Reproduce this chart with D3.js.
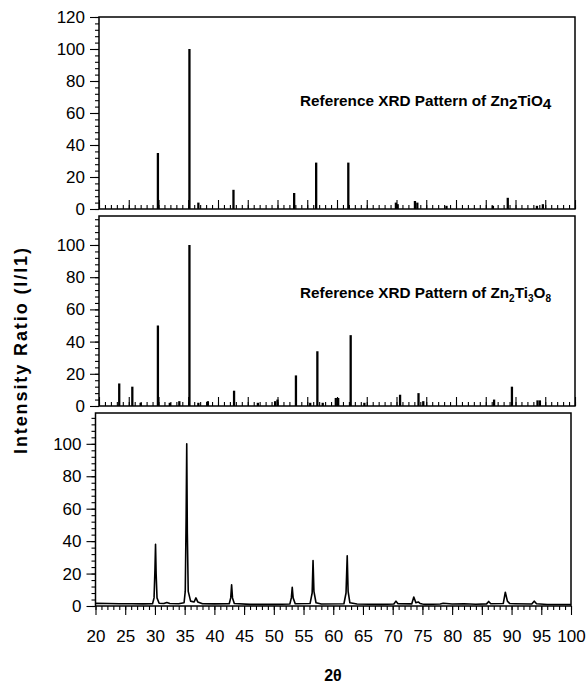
<!DOCTYPE html>
<html>
<head>
<meta charset="utf-8">
<script src="https://cdn.jsdelivr.net/npm/d3@7"></script>
<style>
    body { margin: 0; background: #fff; }
    text { font-family: "Liberation Sans", Arial, sans-serif; fill: #000; }
</style>
</head>
<body>
<svg id="chart" width="588" height="684" viewBox="0 0 588 684"></svg>
<script>
// Reference stick pattern, Zn2TiO4 (2theta, I/I1)
const tioPos = [29.9, 35.2, 36.7, 42.6, 52.8, 56.5, 61.9, 69.9, 70.2, 73.1, 73.5, 78.4, 86.2, 88.7, 93.6, 94.6];
const tioInt = [35, 100, 4, 12, 10, 29, 29, 4, 3, 5, 4, 2, 2, 7, 2, 3];

// Reference stick pattern, Zn2Ti3O8
const ti3Pos = [23.4, 25.6, 27.0, 29.9, 31.9, 33.5, 35.2, 36.7, 38.3, 42.7, 46.7, 49.6, 50.0, 53.1, 55.5, 56.7, 57.6, 59.8, 60.2, 62.3, 64.6, 70.6, 73.7, 74.5, 86.4, 89.4, 93.7, 94.1];
const ti3Int = [14, 12, 2, 50, 2, 3, 100, 2, 3, 9.5, 2, 3, 4, 19, 2, 34, 2, 5, 5, 44, 2, 7, 8, 3, 4, 12, 3.5, 3.5];

// Measured pattern (2theta, intensity)
const measTheta = [20, 22, 24, 26, 28, 29.6, 29.85, 30.0, 30.1, 30.2, 30.35, 30.7, 31.5, 32, 32.5, 34, 34.9, 35.1, 35.25, 35.35, 35.45, 35.6, 36, 36.6, 36.9, 37.2, 38, 40, 42.5, 42.75, 42.9, 43.05, 43.35, 46, 50, 52.7, 52.95, 53.1, 53.25, 53.6, 56.1, 56.45, 56.6, 56.75, 57.1, 58, 61.8, 62.15, 62.35, 62.5, 62.8, 64, 68, 70.2, 70.55, 70.9, 73.2, 73.55, 73.9, 74.3, 74.6, 75.0, 75.5, 78, 78.5, 80, 82, 84, 85.8, 86.15, 86.5, 88.6, 88.95, 89.3, 89.7, 90.5, 93.4, 93.8, 94.2, 96, 100];
const measInt   = [1.6, 1.5, 1.4, 1.4, 1.3, 1.4, 5, 22, 38, 20, 5, 1.7, 1.5, 2.2, 1.5, 1.4, 2, 9, 55, 100, 45, 9, 3, 2.5, 5, 2.5, 1.4, 1.3, 1.4, 5, 13, 5, 1.5, 1.0, 1.0, 1.2, 5, 11.5, 5, 1.4, 1.5, 8, 28, 9, 2, 1.2, 1.4, 8, 31, 9, 2, 1.2, 1.0, 1.2, 3, 1.4, 1.3, 5.5, 2, 2.5, 1.6, 1.2, 1.0, 1.2, 1.7, 1.2, 1.4, 1.1, 1.3, 2.8, 1.4, 1.5, 8.5, 3, 1.5, 1.4, 1.2, 3, 1.4, 0.9, 0.9];

// Tick labels
const xTickLabels = [20, 25, 30, 35, 40, 45, 50, 55, 60, 65, 70, 75, 80, 85, 90, 95, 100];
const yTicksTop = [0, 20, 40, 60, 80, 100, 120];
const yTicksLower = [0, 20, 40, 60, 80, 100];

const svg = d3.select("#chart");

const panels = [
    { x0: 99, x1: 575, top: 17, bottom: 209, yMax: 120, ticks: yTicksTop, sticks: [tioPos, tioInt] },
    { x0: 99, x1: 575, top: 216, bottom: 406, yMax: 118, ticks: yTicksLower, sticks: [ti3Pos, ti3Int] },
    { x0: 95.5, x1: 571, top: 413, bottom: 606, yMax: 119, ticks: yTicksLower, sticks: null }
];

panels.forEach((p, i) => {
    const x = d3.scaleLinear().domain([20, 100]).range([p.x0, p.x1]);
    const y = d3.scaleLinear().domain([0, p.yMax]).range([p.bottom, p.top]);
    const g = svg.append("g");
    const isLast = i === panels.length - 1;

    // minor y ticks
    g.append("g")
        .attr("transform", `translate(${p.x0},0)`)
        .call(d3.axisLeft(y).tickValues(d3.range(0, p.yMax + 0.1, 4)).tickSize(4).tickFormat(""))
        .call(a => a.select(".domain").remove());

    // major y ticks + labels
    g.append("g")
        .attr("transform", `translate(${p.x0},0)`)
        .call(d3.axisLeft(y).tickValues(p.ticks).tickSize(9).tickPadding(5))
        .call(a => a.select(".domain").remove())
        .call(a => a.selectAll("text").attr("font-size", 17));

    // x ticks: inward on the reference panels, outward with labels on the last one
    const dir = isLast ? 1 : -1;
    g.append("g")
        .attr("transform", `translate(0,${p.bottom})`)
        .call(d3.axisBottom(x).tickValues(d3.range(20, 100.1, 1)).tickSize(4 * dir).tickFormat(""))
        .call(a => a.select(".domain").remove());
    const major = g.append("g")
        .attr("transform", `translate(0,${p.bottom})`)
        .call(d3.axisBottom(x).tickValues(xTickLabels).tickSize(9 * dir).tickPadding(15))
        .call(a => a.select(".domain").remove());
    if (isLast) {
        major.selectAll("text").attr("font-size", 17);
    } else {
        major.selectAll("text").remove();
    }

    g.selectAll(".tick line").attr("stroke", "#000").attr("stroke-width", 1.1);

    // frame
    g.append("rect")
        .attr("x", p.x0).attr("y", p.top)
        .attr("width", p.x1 - p.x0).attr("height", p.bottom - p.top)
        .attr("fill", "none").attr("stroke", "#000").attr("stroke-width", 1.5);

    if (p.sticks) {
        const [pos, inten] = p.sticks;
        g.append("g").selectAll("line")
            .data(pos.map((d, k) => [d, inten[k]]))
            .join("line")
            .attr("x1", d => x(d[0])).attr("x2", d => x(d[0]))
            .attr("y1", y(0)).attr("y2", d => y(d[1]))
            .attr("stroke", "#000").attr("stroke-width", 2.3);
    } else {
        const pts = measTheta.map((d, k) => [d, measInt[k]]);
        g.append("path")
            .datum(pts)
            .attr("fill", "none").attr("stroke", "#000").attr("stroke-width", 1.6)
            .attr("stroke-linejoin", "round")
            .attr("d", d3.line().x(d => x(d[0])).y(d => y(d[1])));
    }
});

// pattern annotations
const t1 = svg.append("text").attr("x", 300).attr("y", 106)
    .attr("font-size", 15.3).attr("font-weight", "bold");
t1.append("tspan").text("Reference XRD Pattern of Zn");
t1.append("tspan").attr("dy", 3).text("2");
t1.append("tspan").attr("dy", -3).text("TiO");
t1.append("tspan").attr("dy", 3).text("4");

const t2 = svg.append("text").attr("x", 300).attr("y", 298)
    .attr("font-size", 15.3).attr("font-weight", "bold");
t2.append("tspan").text("Reference XRD Pattern of Zn");
t2.append("tspan").attr("dy", 4).attr("font-size", 10).text("2");
t2.append("tspan").attr("dy", -4).text("Ti");
t2.append("tspan").attr("dy", 4).attr("font-size", 10).text("3");
t2.append("tspan").attr("dy", -4).text("O");
t2.append("tspan").attr("dy", 4).attr("font-size", 10).text("8");

// axis titles
svg.append("text")
    .attr("transform", "translate(27,351) rotate(-90)")
    .attr("text-anchor", "middle")
    .attr("font-size", 18).attr("font-weight", "bold")
    .attr("textLength", 206).attr("lengthAdjust", "spacing")
    .text("Intensity Ratio (I/I1)");

svg.append("text")
    .attr("x", 333).attr("y", 681)
    .attr("text-anchor", "middle")
    .attr("font-size", 16).attr("font-weight", "bold")
    .text("2θ");
</script>
</body>
</html>
